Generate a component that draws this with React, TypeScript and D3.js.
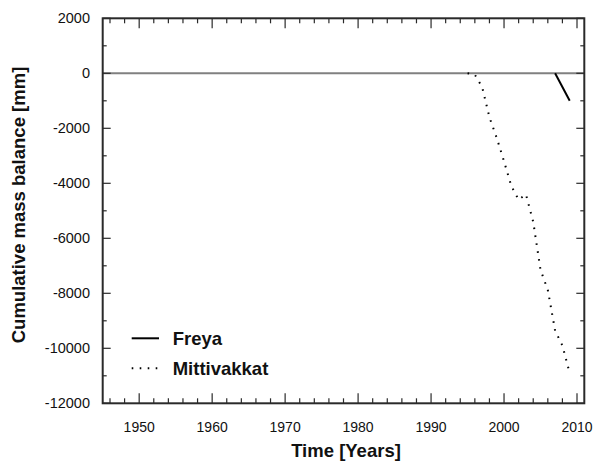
import React from "react";
import * as d3 from "d3";

const freyaYears = [2007, 2008, 2009];
const freyaValues = [0, -500, -1000];

const mittiYears = [1995, 1996, 1997, 1998, 1999, 2000, 2001, 2002, 2003, 2004, 2005, 2006, 2007, 2008, 2009];
const mittiValues = [0, -50, -500, -1600, -2350, -3200, -4100, -4600, -4400, -5400, -7150, -7880, -9360, -9900, -10900];

const xTickLabels = [1950, 1960, 1970, 1980, 1990, 2000, 2010];
const yTickLabels = [2000, 0, -2000, -4000, -6000, -8000, -10000, -12000];

const legendNames = ["Freya", "Mittivakkat"];

export default function App() {
  const W = 597, H = 464;
  const L = 102.7, R = 584.3, T = 18.3, B = 403.3;
  const x = d3.scaleLinear().domain([1945, 2011]).range([L, R]);
  const y = d3.scaleLinear().domain([-12000, 2000]).range([B, T]);

  const line = d3.line<[number, number]>().x(d => x(d[0])).y(d => y(d[1]));
  const freya = line(freyaYears.map((yr, i) => [yr, freyaValues[i]]))!;
  const mitti = line(mittiYears.map((yr, i) => [yr, mittiValues[i]]))!;

  const xMinor = d3.range(1946, 2011, 2);
  const yMinor = d3.range(-12000, 2001, 1000);
  const font = "Liberation Sans, Arial, sans-serif";
  const axisColor = "#2a2a2a";

  return (
    <svg width={W} height={H} style={{ position: "absolute", left: 0, top: 0 }} fontFamily={font}>
      <rect width={W} height={H} fill="white" />
      {/* zero line */}
      <line x1={L} x2={R} y1={y(0)} y2={y(0)} stroke="#808080" strokeWidth={2} />
      {/* x ticks */}
      {xMinor.map(v => {
        const major = v % 10 === 0;
        const len = major ? 10 : 5;
        return (
          <g key={"xt" + v}>
            <line x1={x(v)} x2={x(v)} y1={B} y2={B - len} stroke={axisColor} strokeWidth={1.2} />
            <line x1={x(v)} x2={x(v)} y1={T} y2={T + len} stroke={axisColor} strokeWidth={1.2} />
          </g>
        );
      })}
      {/* y ticks */}
      {yMinor.map(v => {
        const major = v % 2000 === 0;
        const len = major ? 8 : 4;
        return (
          <g key={"yt" + v}>
            <line x1={L} x2={L + len} y1={y(v)} y2={y(v)} stroke={axisColor} strokeWidth={1.2} />
            <line x1={R} x2={R - len} y1={y(v)} y2={y(v)} stroke={axisColor} strokeWidth={1.2} />
          </g>
        );
      })}
      {/* frame */}
      <rect x={L} y={T} width={R - L} height={B - T} fill="none" stroke={axisColor} strokeWidth={2} />
      {/* x labels */}
      {xTickLabels.map(v => (
        <text key={"xl" + v} x={x(v)} y={431.5} textAnchor="middle" fontSize={14} fill="#111">{v}</text>
      ))}
      {yTickLabels.map(v => (
        <text key={"yl" + v} x={90} y={y(v)} dy="0.35em" textAnchor="end" fontSize={14.5} fill="#111">{v}</text>
      ))}
      {/* axis titles */}
      <text x={346} y={457} textAnchor="middle" fontSize={18.5} fontWeight="bold" fill="#111">Time [Years]</text>
      <text transform={`translate(25,${205}) rotate(-90)`} textAnchor="middle" fontSize={18.5} fontWeight="bold" fill="#111">Cumulative mass balance [mm]</text>
      {/* series */}
      <path d={freya} fill="none" stroke="#000" strokeWidth={2} />
      <path d={mitti} fill="none" stroke="#000" strokeWidth={2} strokeDasharray="1.6 6.4" />
      {/* legend */}
      <line x1={131.7} x2={159} y1={338.3} y2={338.3} stroke="#000" strokeWidth={2} />
      <text x={172.7} y={338.3} dy="0.35em" fontSize={18.5} fontWeight="bold" fill="#111">{legendNames[0]}</text>
      <line x1={131.7} x2={159} y1={368.3} y2={368.3} stroke="#000" strokeWidth={2} strokeDasharray="1.6 6.4" />
      <text x={172.7} y={368.3} dy="0.35em" fontSize={18.5} fontWeight="bold" fill="#111">{legendNames[1]}</text>
    </svg>
  );
}
